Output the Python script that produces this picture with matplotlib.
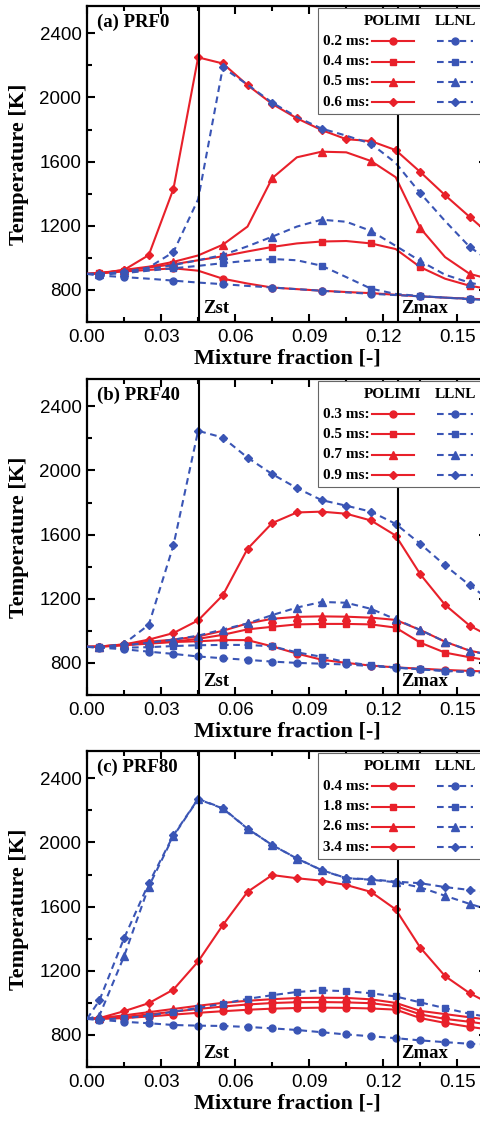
import numpy as np
import matplotlib.pyplot as plt
from matplotlib.ticker import MultipleLocator
from matplotlib.patches import Rectangle

plt.rcParams['font.family'] = 'Liberation Sans'

# mixture fraction grid of the flamelet solutions
z = [0.0, 0.005, 0.015, 0.025, 0.035, 0.045, 0.055, 0.065, 0.075, 0.085,
     0.095, 0.105, 0.115, 0.125, 0.135, 0.145, 0.155, 0.165]
z_st = 0.0454
z_max = 0.1261

# (a) PRF0
a_times = ['0.2 ms:', '0.4 ms:', '0.5 ms:', '0.6 ms:']
a_polimi = [
    [900, 905, 915, 925, 935, 920, 870, 840, 815, 805, 795, 787, 780, 770, 760, 752, 745, 740],
    [900, 905, 920, 940, 960, 985, 1010, 1040, 1068, 1090, 1102, 1105, 1090, 1055, 942, 870, 826, 800],
    [900, 905, 925, 945, 975, 1015, 1082, 1195, 1497, 1627, 1662, 1658, 1604, 1503, 1185, 1005, 900, 860],
    [900, 902, 925, 1017, 1430, 2250, 2212, 2077, 1960, 1870, 1797, 1740, 1728, 1672, 1535, 1391, 1255, 1120],
]
a_llnl = [
    [900, 890, 880, 870, 858, 846, 836, 825, 815, 805, 795, 785, 776, 768, 760, 752, 745, 740],
    [900, 895, 905, 920, 935, 950, 967, 982, 993, 985, 951, 880, 808, 775, 762, 752, 742, 735],
    [900, 900, 910, 930, 955, 985, 1018, 1072, 1132, 1195, 1238, 1225, 1168, 1075, 980, 895, 845, 815],
    [900, 900, 912, 940, 1036, 1365, 2187, 2080, 1968, 1878, 1806, 1762, 1712, 1592, 1403, 1230, 1068, 960],
]

# (b) PRF40
b_times = ['0.3 ms:', '0.5 ms:', '0.7 ms:', '0.9 ms:']
b_polimi = [
    [900, 900, 910, 920, 930, 935, 942, 942, 903, 858, 820, 800, 783, 772, 764, 756, 750, 745],
    [900, 902, 912, 925, 932, 950, 975, 1009, 1025, 1040, 1043, 1043, 1040, 1020, 926, 864, 835, 810],
    [900, 902, 915, 932, 945, 965, 1000, 1046, 1075, 1087, 1090, 1088, 1082, 1068, 1005, 932, 876, 845],
    [900, 902, 915, 945, 986, 1065, 1222, 1511, 1672, 1738, 1743, 1730, 1688, 1594, 1352, 1162, 1032, 950],
]
b_llnl = [
    [900, 895, 885, 870, 856, 840, 829, 819, 808, 800, 795, 790, 780, 770, 760, 750, 744, 738],
    [900, 898, 895, 898, 905, 910, 912, 912, 903, 866, 838, 805, 785, 772, 760, 750, 742, 738],
    [900, 900, 910, 925, 945, 970, 1008, 1046, 1098, 1145, 1180, 1175, 1137, 1072, 1005, 932, 877, 840],
    [900, 896, 920, 1037, 1533, 2247, 2205, 2080, 1977, 1890, 1815, 1780, 1743, 1667, 1542, 1408, 1284, 1170],
]

# (c) PRF80
c_times = ['0.4 ms:', '1.8 ms:', '2.6 ms:', '3.4 ms:']
c_polimi = [
    [900, 900, 905, 915, 927, 938, 948, 957, 964, 968, 970, 969, 965, 958, 905, 875, 850, 830],
    [900, 902, 912, 928, 945, 962, 977, 990, 999, 1004, 1005, 1003, 998, 980, 928, 900, 882, 860],
    [900, 905, 922, 942, 962, 982, 1000, 1013, 1023, 1030, 1032, 1031, 1022, 1000, 950, 930, 910, 890],
    [900, 905, 948, 998, 1083, 1258, 1485, 1692, 1797, 1777, 1762, 1735, 1692, 1583, 1344, 1167, 1060, 980],
]
c_llnl = [
    [900, 895, 882, 873, 862, 858, 856, 850, 841, 831, 817, 803, 792, 780, 766, 755, 745, 740],
    [900, 895, 905, 920, 945, 968, 995, 1025, 1048, 1068, 1078, 1073, 1060, 1040, 1003, 967, 932, 905],
    [900, 920, 1290, 1725, 2040, 2270, 2212, 2086, 1984, 1900, 1827, 1777, 1768, 1752, 1720, 1668, 1617, 1570],
    [900, 1015, 1403, 1745, 2045, 2272, 2214, 2087, 1984, 1901, 1828, 1778, 1770, 1756, 1746, 1722, 1704, 1685],
]

RED = '#e8202a'
BLUE = '#3a55b5'
markers = ['o', 's', '^', 'D']
msizes = [5, 4.5, 5.5, 4.5]
dash = (0, (3.2, 2.2))
serif = 'Liberation Serif'

every_other = [1] + list(range(2, 18, 2))
every_one = list(range(1, 18))

panels = [
    ('(a) PRF0', a_times, a_polimi, a_llnl, [every_other, every_other, every_other, every_one],
     [every_other] * 4, 0.7130),
    ('(b) PRF40', b_times, b_polimi, b_llnl, [every_one] * 4, [every_one] * 4, 0.3806),
    ('(c) PRF80', c_times, c_polimi, c_llnl, [every_one] * 4, [every_one] * 4, 0.0490),
]

fig = plt.figure(figsize=(4.81, 11.22), dpi=100)

for label, times, pol, llnl, mk_pol, mk_llnl, bottom in panels:
    ax = fig.add_axes([0.1809, bottom, 0.8316, 0.2816])

    for i in range(4):
        ax.plot(z, pol[i], color=RED, lw=1.5, marker=markers[i], ms=msizes[i],
                markevery=mk_pol[i], zorder=3)
    for i in range(4):
        ax.plot(z, llnl[i], color=BLUE, lw=1.5, ls=dash, marker=markers[i], ms=msizes[i],
                markevery=mk_llnl[i], zorder=3)

    ax.axvline(z_st, color='black', lw=1.5, zorder=4)
    ax.axvline(z_max, color='black', lw=1.5, zorder=4)
    ax.text(z_st + 0.0016, 655, 'Zst', family=serif, weight='bold', fontsize=13.5, va='baseline')
    ax.text(z_max + 0.0013, 655, 'Zmax', family=serif, weight='bold', fontsize=13.5, va='baseline')
    ax.text(0.025, 0.949, label, transform=ax.transAxes, family=serif, weight='bold',
            fontsize=13.5, va='center')

    # legend: time labels with POLIMI (solid) and LLNL (dashed) samples
    ax.add_patch(Rectangle((0.5775, 0.658), 0.4225, 0.336, transform=ax.transAxes,
                           facecolor='white', edgecolor='#666666', lw=0.8, zorder=6))
    ax.text(0.7625, 0.9525, 'POLIMI', transform=ax.transAxes, family=serif, weight='bold',
            fontsize=11, ha='center', va='center', zorder=7)
    ax.text(0.92, 0.9525, 'LLNL', transform=ax.transAxes, family=serif, weight='bold',
            fontsize=11, ha='center', va='center', zorder=7)
    for i in range(4):
        y = 0.889 - 0.0645 * i
        ax.text(0.7075, y, times[i], transform=ax.transAxes, family=serif, weight='bold',
                fontsize=11, ha='right', va='center', zorder=7)
        ax.plot([0.7125, 0.765, 0.8175], [y, y, y], transform=ax.transAxes, color=RED, lw=1.5,
                marker=markers[i], ms=msizes[i], markevery=[1], zorder=7)
        ax.plot([0.875, 0.92, 0.965], [y, y, y], transform=ax.transAxes, color=BLUE, lw=1.5,
                ls=dash, marker=markers[i], ms=msizes[i], markevery=[1], zorder=7)

    ax.set_xlim(0, 0.162)
    ax.set_ylim(600, 2570)
    ax.xaxis.set_major_locator(MultipleLocator(0.03))
    ax.xaxis.set_minor_locator(MultipleLocator(0.015))
    ax.yaxis.set_major_locator(MultipleLocator(400))
    ax.yaxis.set_minor_locator(MultipleLocator(200))
    ax.set_yticks([800, 1200, 1600, 2000, 2400])
    ax.xaxis.set_major_formatter(plt.FuncFormatter(lambda v, p: f'{v:.2f}'))
    ax.tick_params(which='both', direction='in', top=True, right=True, width=1.5,
                   labelsize=13.5)
    ax.tick_params(which='major', length=6)
    ax.tick_params(which='minor', length=3.5)
    ax.tick_params(axis='x', pad=5)
    ax.tick_params(axis='y', pad=4)
    for s in ax.spines.values():
        s.set_linewidth(1.6)

    ax.set_xlabel('Mixture fraction [-]', family=serif, weight='bold', fontsize=16)
    ax.set_ylabel('Temperature [K]', family=serif, weight='bold', fontsize=16)
    ax.xaxis.set_label_coords(0.5, -0.085)
    ax.yaxis.set_label_coords(-0.145, 0.5)

fig.savefig('out.png', dpi=100)
